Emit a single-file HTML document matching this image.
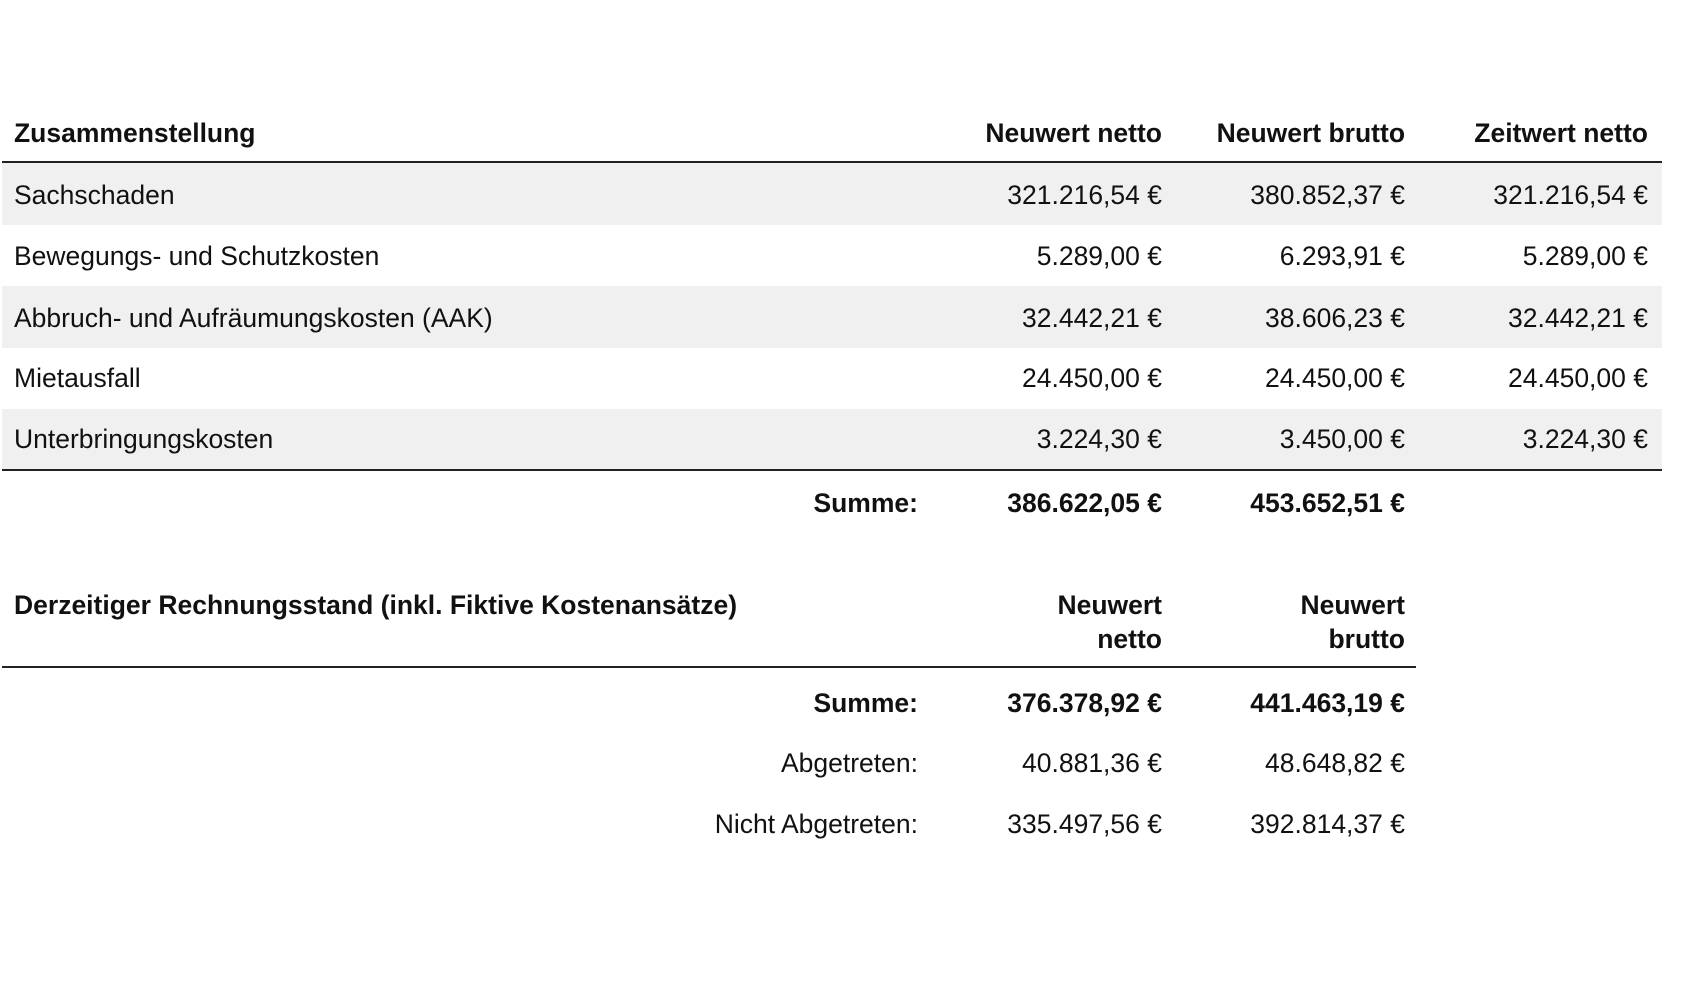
<!DOCTYPE html>
<html><head><meta charset="utf-8"><style>
html,body{margin:0;padding:0;background:#fff;width:1688px;height:996px;overflow:hidden;font-family:"Liberation Sans",Arial,sans-serif;color:#111;font-size:26.5px}
.a{position:absolute;white-space:nowrap;line-height:30px}
.r{text-align:right}
.b{font-weight:bold}
.bg{position:absolute;left:2px;width:1660px;background:#f0f0f0}
.ln{position:absolute;left:2px;height:2px;background:#222}
</style></head><body>
<div class="bg" style="top:163px;height:62px"></div>
<div class="bg" style="top:286px;height:62px"></div>
<div class="bg" style="top:409px;height:61px"></div>
<div class="ln" style="top:161px;width:1660px"></div>
<div class="ln" style="top:469px;width:1660px"></div>
<div class="ln" style="top:666px;width:1414px"></div>

<div class="a b" style="left:14px;top:118px">Zusammenstellung</div>
<div class="a b r" style="right:526px;top:118px">Neuwert netto</div>
<div class="a b r" style="right:283px;top:118px">Neuwert brutto</div>
<div class="a b r" style="right:40px;top:118px">Zeitwert netto</div>

<div class="a" style="left:14px;top:180px">Sachschaden</div>
<div class="a r" style="right:526px;top:180px">321.216,54 €</div>
<div class="a r" style="right:283px;top:180px">380.852,37 €</div>
<div class="a r" style="right:40px;top:180px">321.216,54 €</div>

<div class="a" style="left:14px;top:241px">Bewegungs- und Schutzkosten</div>
<div class="a r" style="right:526px;top:241px">5.289,00 €</div>
<div class="a r" style="right:283px;top:241px">6.293,91 €</div>
<div class="a r" style="right:40px;top:241px">5.289,00 €</div>

<div class="a" style="left:14px;top:303px">Abbruch- und Aufräumungskosten (AAK)</div>
<div class="a r" style="right:526px;top:303px">32.442,21 €</div>
<div class="a r" style="right:283px;top:303px">38.606,23 €</div>
<div class="a r" style="right:40px;top:303px">32.442,21 €</div>

<div class="a" style="left:14px;top:363px">Mietausfall</div>
<div class="a r" style="right:526px;top:363px">24.450,00 €</div>
<div class="a r" style="right:283px;top:363px">24.450,00 €</div>
<div class="a r" style="right:40px;top:363px">24.450,00 €</div>

<div class="a" style="left:14px;top:424px">Unterbringungskosten</div>
<div class="a r" style="right:526px;top:424px">3.224,30 €</div>
<div class="a r" style="right:283px;top:424px">3.450,00 €</div>
<div class="a r" style="right:40px;top:424px">3.224,30 €</div>

<div class="a b r" style="right:770px;top:488px">Summe:</div>
<div class="a b r" style="right:526px;top:488px">386.622,05 €</div>
<div class="a b r" style="right:283px;top:488px">453.652,51 €</div>

<div class="a b" style="left:14px;top:590px">Derzeitiger Rechnungsstand (inkl. Fiktive Kostenansätze)</div>
<div class="a b r" style="right:526px;top:588px;line-height:34px">Neuwert<br>netto</div>
<div class="a b r" style="right:283px;top:588px;line-height:34px">Neuwert<br>brutto</div>

<div class="a b r" style="right:770px;top:688px">Summe:</div>
<div class="a b r" style="right:526px;top:688px">376.378,92 €</div>
<div class="a b r" style="right:283px;top:688px">441.463,19 €</div>

<div class="a r" style="right:770px;top:748px">Abgetreten:</div>
<div class="a r" style="right:526px;top:748px">40.881,36 €</div>
<div class="a r" style="right:283px;top:748px">48.648,82 €</div>

<div class="a r" style="right:770px;top:809px">Nicht Abgetreten:</div>
<div class="a r" style="right:526px;top:809px">335.497,56 €</div>
<div class="a r" style="right:283px;top:809px">392.814,37 €</div>
</body></html>
